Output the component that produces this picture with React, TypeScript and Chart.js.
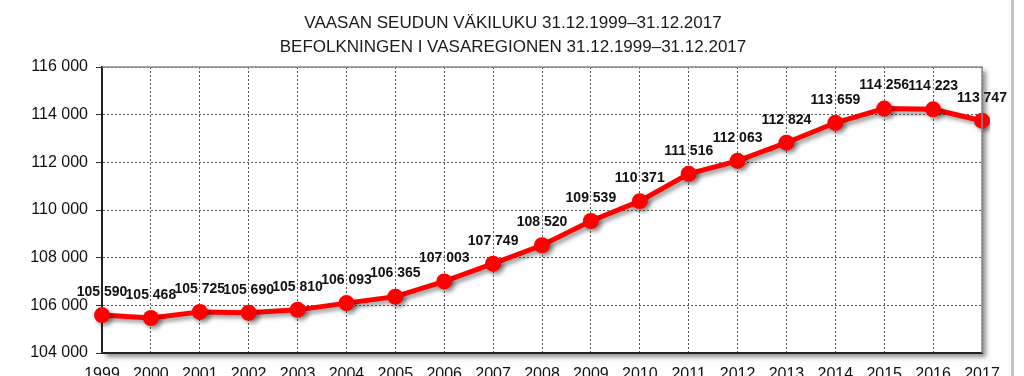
import React, { useEffect, useRef } from "react";
import { Chart, registerables } from "chart.js";

Chart.register(...registerables);

const years = ["1999","2000","2001","2002","2003","2004","2005","2006","2007","2008","2009","2010","2011","2012","2013","2014","2015","2016","2017"];
const population = [105590,105468,105725,105690,105810,106093,106365,107003,107749,108520,109539,110371,111516,112063,112824,113659,114256,114223,113747];
const titleLines = ["VAASAN SEUDUN VÄKILUKU 31.12.1999–31.12.2017", "BEFOLKNINGEN I VASAREGIONEN 31.12.1999–31.12.2017"];

const fmt = (v: number) => {
  const s = Math.round(v).toString();
  return s.replace(/\B(?=(\d{3})+(?!\d))/g, " ");
};

const FONT = "'Liberation Sans', Arial, sans-serif";
const W = 1024;
const H = 400;

const framePlugin = {
  id: "frame",
  beforeDraw(chart: any) {
    const { ctx, chartArea: a } = chart;
    ctx.save();
    ctx.shadowColor = "rgba(0,0,0,0.45)";
    ctx.shadowBlur = 5;
    ctx.shadowOffsetX = 4;
    ctx.shadowOffsetY = 4;
    ctx.fillStyle = "#ffffff";
    ctx.fillRect(a.left, a.top, a.right - a.left, a.bottom - a.top);
    ctx.restore();
    // title, centred on the whole canvas
    ctx.save();
    ctx.fillStyle = "#1a1a1a";
    ctx.font = `17px ${FONT}`;
    ctx.textAlign = "center";
    ctx.textBaseline = "middle";
    titleLines.forEach((t, i) => ctx.fillText(t, 513, 23 + i * 24));
    ctx.restore();
  },
  afterDraw(chart: any) {
    const { ctx, chartArea: a } = chart;
    ctx.save();
    ctx.strokeStyle = "#8a8a8a";
    ctx.lineWidth = 1.5;
    ctx.beginPath();
    ctx.moveTo(a.left, a.top);
    ctx.lineTo(a.right, a.top);
    ctx.lineTo(a.right, a.bottom);
    ctx.stroke();
    ctx.fillStyle = "#c4c4c4";
    ctx.fillRect(1011, 0, 3, H);
    ctx.restore();
  },
};

const shadowPlugin = {
  id: "lineShadow",
  beforeDatasetDraw(chart: any) {
    const ctx = chart.ctx;
    ctx.save();
    ctx.shadowColor = "rgba(0,0,0,0.4)";
    ctx.shadowBlur = 4;
    ctx.shadowOffsetX = 3;
    ctx.shadowOffsetY = 3;
  },
  afterDatasetDraw(chart: any) {
    chart.ctx.restore();
  },
};

const labelPlugin = {
  id: "valueLabels",
  afterDatasetsDraw(chart: any) {
    const ctx = chart.ctx;
    const meta = chart.getDatasetMeta(0);
    ctx.save();
    ctx.fillStyle = "#111";
    ctx.font = `bold 14px ${FONT}`;
    ctx.textAlign = "center";
    ctx.textBaseline = "middle";
    meta.data.forEach((pt: any, i: number) => {
      ctx.fillText(fmt(population[i]), pt.x, pt.y - 23);
    });
    ctx.restore();
  },
};

export default function App() {
  const ref = useRef<HTMLCanvasElement>(null);
  useEffect(() => {
    if (!ref.current) return;
    const chart = new Chart(ref.current, {
      type: "line",
      data: {
        labels: years,
        datasets: [
          {
            data: population,
            borderColor: "#ff0000",
            backgroundColor: "#ff0000",
            borderWidth: 5,
            pointRadius: 8,
            pointBorderWidth: 0,
            pointBackgroundColor: "#ff0000",
            tension: 0,
          },
        ],
      },
      options: {
        responsive: false,
        animation: false,
        layout: { padding: { left: 0, right: 42, top: 67, bottom: 0 } },
        plugins: {
          legend: { display: false },
          tooltip: { enabled: false },
          title: { display: false },
        },
        scales: {
          x: {
            offset: false,
            grid: {
              display: true,
              color: "#555",
              lineWidth: 1,
              drawTicks: false,
            },
            border: { display: true, color: "#222", width: 2, dash: [2, 2] },
            ticks: {
              color: "#111",
              font: { family: FONT, size: 16 },
              padding: 12,
              maxRotation: 0,
              autoSkip: false,
            },
            afterFit(scale: any) {
              scale.height = H - 353;
            },
          },
          y: {
            min: 104000,
            max: 116000,
            grid: {
              color: "#555",
              lineWidth: 1,
              tickLength: 6,
              tickColor: "#333",
              tickBorderDash: [],
            },
            border: { display: true, color: "#222", width: 2, dash: [2, 2] },
            ticks: {
              stepSize: 2000,
              color: "#111",
              font: { family: FONT, size: 16 },
              padding: 8,
              callback: (v: any) => fmt(Number(v)),
            },
            afterFit(scale: any) {
              scale.width = 102;
            },
          },
        },
      } as any,
      plugins: [framePlugin, shadowPlugin, labelPlugin],
    });
    return () => chart.destroy();
  }, []);
  return (
    <div style={{ position: "fixed", left: 0, top: 0, width: W, height: 376, overflow: "hidden", background: "#fff" }}>
      <canvas ref={ref} width={W} height={H} style={{ display: "block" }} />
    </div>
  );
}
